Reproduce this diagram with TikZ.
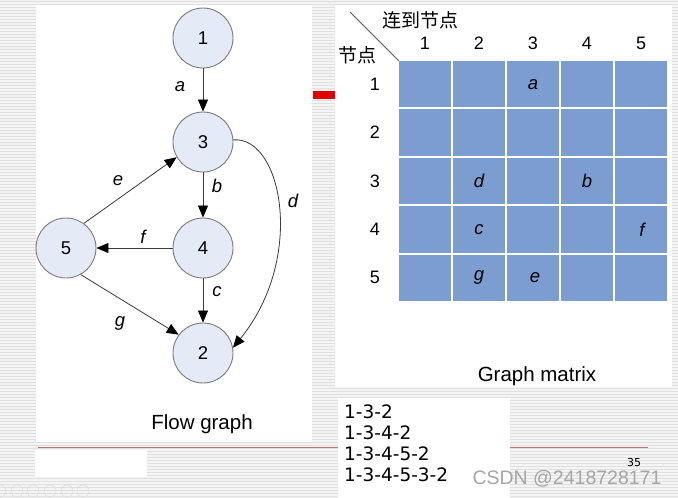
\documentclass[tikz,border=0pt]{standalone}
\usepackage{fontspec}
\setmainfont{Liberation Sans}
\newfontfamily\cjk{Noto Sans CJK SC}
\newfontfamily\verd{DejaVu Sans}
\usetikzlibrary{arrows.meta}
\definecolor{bgcol}{HTML}{F4F4F4}
\definecolor{stripecol}{HTML}{E0E0E0}
\definecolor{vtxfill}{HTML}{E4EAF6}
\definecolor{vtxline}{HTML}{7A7A7A}
\definecolor{edgecol}{HTML}{3A3A3A}
\definecolor{cellcol}{HTML}{7B9DD0}
\definecolor{rulecol}{HTML}{B5776E}
\definecolor{markcol}{HTML}{E00000}
\tikzset{
  vtx/.style={circle, draw=vtxline, fill=vtxfill, minimum size=60pt, inner sep=0pt, line width=0.9pt, font=\fontsize{18.5}{18}\selectfont},
  edge/.style={draw=edgecol, line width=0.8pt, -{Triangle[length=12pt,width=10pt,color=black]}},
  elab/.style={font=\fontsize{18.5}{18}\selectfont\itshape, inner sep=0pt},
  cell/.style={fill=cellcol, minimum width=52pt, minimum height=46.5pt, inner sep=0pt},
  hdr/.style={font=\fontsize{18}{18}\selectfont, inner sep=0pt},
  captxt/.style={font=\fontsize{20.5}{20}\selectfont, inner sep=0pt},
  pathtxt/.style={font=\verd\fontsize{18.5}{18}\selectfont, anchor=west, inner sep=0pt},
  panel/.style={fill=white, draw=none},
  icon/.style={draw=black!13, line width=0.6pt}
}
\begin{document}
\begin{tikzpicture}[x=1pt,y=-1pt]
\useasboundingbox (0,0) rectangle (678,498);
% background with stripes
\fill[bgcol] (0,0) rectangle (678,498);
\foreach \y in {1.5,4.5,...,498} \draw[stripecol, line width=1pt] (0,\y) -- (678,\y);
% panels
\fill[panel] (36,5) rectangle (312,442);
\fill[panel] (335,5) rectangle (672,387);
\fill[panel] (35,450) rectangle (147,477);
\draw[rulecol, line width=1pt] (38,447) -- (648,447);
\fill[panel] (338,398) rectangle (510,498);
\fill[markcol] (313,91) rectangle (335,99);
% slide control icons
\foreach \x in {0,17,33,50,67,83} \draw[icon] (\x,491) circle (6);

% flow graph
\node[vtx] (n1) at (203,38) {1};
\node[vtx] (n3) at (203,142) {3};
\node[vtx] (n4) at (203,248) {4};
\node[vtx] (n5) at (66,248) {5};
\node[vtx] (n2) at (203,353) {2};
\draw[edge] (n1) -- (n3);
\draw[edge] (n3) -- (n4);
\draw[edge] (n4) -- (n2);
\draw[edge] (n4) -- (n5);
\draw[edge] (n5.54) -- (n3.210);
\draw[edge] (n5.299) -- (n2.143);
\draw[edge] (n3.4) .. controls (282,136) and (306,258) .. (n2.10);
\node[elab] (la) at (180,87) {a};
\node[elab] (lb) at (217,186) {b};
\node[elab] (ld) at (293,201) {d};
\node[elab] (le) at (118,181) {e};
\node[elab] (lf) at (143,237) {f};
\node[elab] (lc) at (217,292) {c};
\node[elab] (lg) at (120,323) {g};
\node[captxt] (fg) at (202,424) {Flow graph};

% graph matrix
\foreach \r in {1,...,5}{
  \foreach \c in {1,...,5}{
    \node[cell] (m\r\c) at ({371+54*\c},{35.8+48.4*\r}) {};
  }
  \node[hdr] (r\r) at (375,{35.8+48.4*\r}) {\r};
  \node[hdr] (h\r) at ({371+54*\r},43) {\r};
}
\node[elab] (ca) at (m13) {a};
\node[elab] (cd) at (m32) {d};
\node[elab] (cb) at (m34) {b};
\node[elab] (cc) at (m42) {c};
\node[elab] (cf) at ([xshift=1pt]m45) {f};
\node[elab] (cg) at (m52) {g};
\node[elab] (ce) at ([xshift=2pt]m53) {e};
\coordinate (dg) at (350,12);
\draw[black!65, line width=0.8pt] (dg) -- (m11.north west);
\node[font=\cjk\fontsize{19}{19}\selectfont, inner sep=0pt] (to) at (420,20) {连到节点};
\node[font=\cjk\fontsize{19}{19}\selectfont, inner sep=0pt] (from) at (357,55) {节点};
\node[captxt] (gm) at (537,376) {Graph matrix};

% paths
\node[pathtxt] (p1) at (344,412) {1-3-2};
\node[pathtxt] (p2) at (344,433) {1-3-4-2};
\node[pathtxt] (p3) at (344,454) {1-3-4-5-2};
\node[pathtxt] (p4) at (344,475) {1-3-4-5-3-2};

\node[font=\verd\fontsize{11}{11}\selectfont, inner sep=0pt] (pg) at (634,462) {35};
\node[font=\fontsize{19.5}{20}\selectfont, text=black!35, inner sep=0pt] (wm) at (567,479) {CSDN @2418728171};
\end{tikzpicture}
\end{document}
